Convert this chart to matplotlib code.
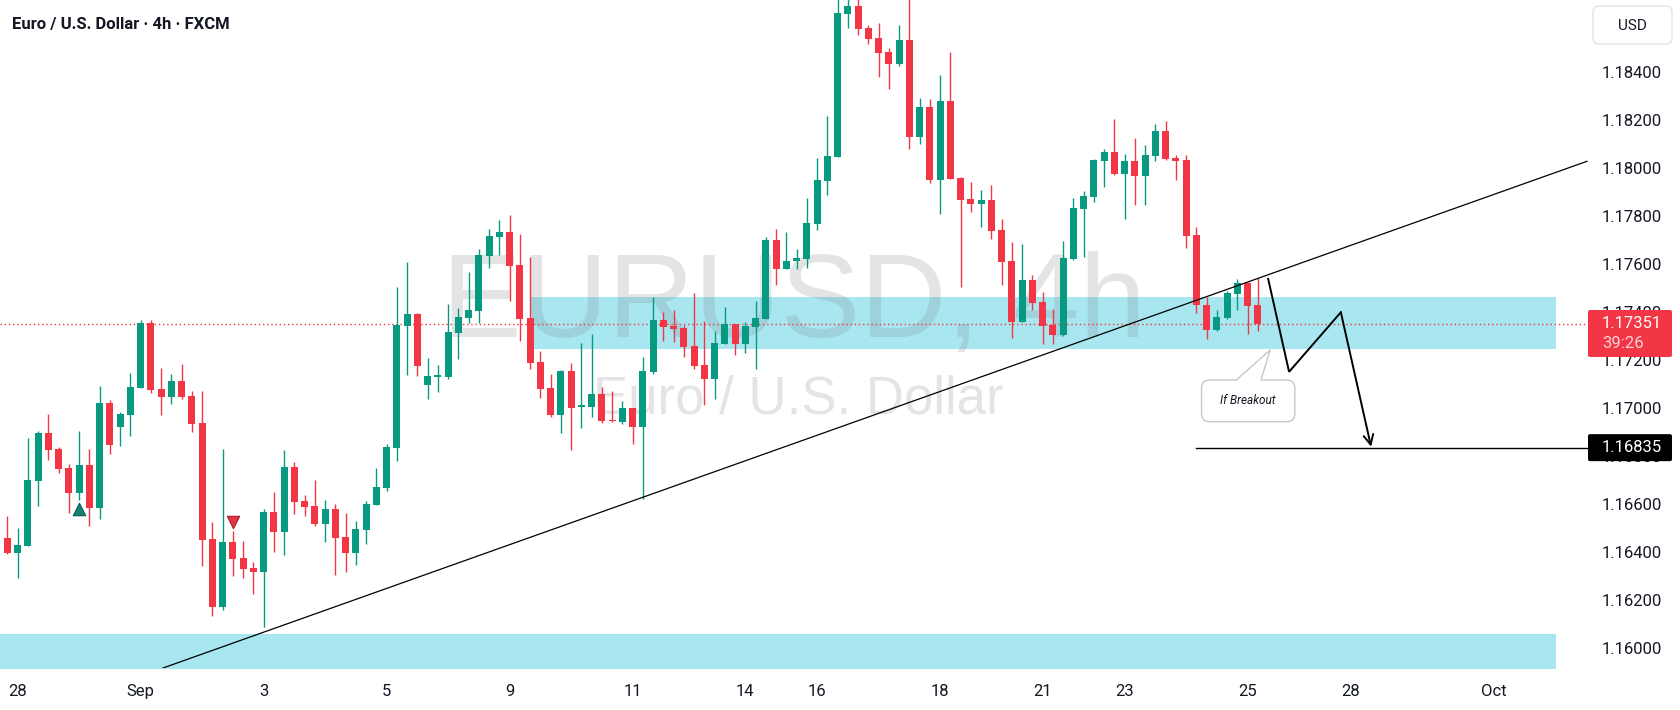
import matplotlib
matplotlib.use("Agg")
import matplotlib.pyplot as plt
from matplotlib.patches import FancyBboxPatch, Polygon
import numpy as np

plt.rcParams['font.family'] = ['Roboto', 'DejaVu Sans']

# EURUSD 4h candles
opens = [1.16458, 1.16397, 1.16426, 1.16697, 1.16896, 1.16829, 1.1675, 1.16647, 1.16763, 1.16585,
         1.17021, 1.16922, 1.16972, 1.17085, 1.17354, 1.17079, 1.17047, 1.17113, 1.1705, 1.16938,
         1.16454, 1.16172, 1.16442, 1.16375, 1.16333, 1.16318, 1.16567, 1.16485, 1.16754, 1.16613,
         1.16592, 1.16518, 1.16579, 1.16463, 1.16397, 1.16493, 1.16597, 1.16667, 1.16835, 1.17343,
         1.17392, 1.17097, 1.17131, 1.1713, 1.17314, 1.17376, 1.17405, 1.17635, 1.17714, 1.17733,
         1.17596, 1.17375, 1.17192, 1.17083, 1.16971, 1.17154, 1.17006, 1.17005, 1.17058, 1.16951,
         1.16943, 1.17, 1.16922, 1.1715, 1.17367, 1.17343, 1.17333, 1.1726, 1.17179, 1.17122,
         1.17268, 1.17351, 1.17268, 1.17339, 1.17372, 1.177, 1.1758, 1.17613, 1.17622, 1.17768,
         1.17946, 1.18047, 1.18643, 1.18675, 1.18583, 1.18542, 1.18483, 1.18435, 1.18533, 1.1813,
         1.18254, 1.17951, 1.18279, 1.17958, 1.1787, 1.17851, 1.17867, 1.17742, 1.17613, 1.1736,
         1.17533, 1.17442, 1.17346, 1.17305, 1.17621, 1.17829, 1.17879, 1.18029, 1.18067, 1.17975,
         1.18029, 1.17967, 1.1805, 1.18154, 1.18042, 1.18033, 1.17721, 1.17429, 1.17325, 1.17375,
         1.17476, 1.17521, 1.17429]
highs = [1.1655, 1.165, 1.16875, 1.16904, 1.16975, 1.16839, 1.16767, 1.16904, 1.16829, 1.17092,
         1.17033, 1.16983, 1.17146, 1.17367, 1.17367, 1.17167, 1.17142, 1.17183, 1.17071, 1.17071,
         1.16524, 1.16829, 1.16488, 1.16446, 1.16358, 1.16579, 1.1665, 1.16825, 1.16775, 1.16638,
         1.167, 1.16617, 1.166, 1.16564, 1.16529, 1.16613, 1.1675, 1.1685, 1.17504, 1.17608,
         1.17396, 1.17208, 1.17179, 1.17433, 1.17417, 1.17567, 1.17663, 1.17746, 1.17783, 1.17804,
         1.17725, 1.17629, 1.17238, 1.17142, 1.17158, 1.17188, 1.17271, 1.17308, 1.17088, 1.17072,
         1.17029, 1.17, 1.17213, 1.17463, 1.17399, 1.1741, 1.17346, 1.17479, 1.17363, 1.17321,
         1.17421, 1.17351, 1.17358, 1.17446, 1.17713, 1.17746, 1.17733, 1.17663, 1.17875, 1.18042,
         1.18217, 1.18721, 1.18712, 1.18708, 1.18596, 1.18604, 1.185, 1.18596, 1.18708, 1.18292,
         1.18288, 1.18388, 1.18483, 1.17963, 1.17942, 1.17908, 1.17929, 1.17788, 1.17692, 1.17683,
         1.17554, 1.17483, 1.17413, 1.17696, 1.17875, 1.17904, 1.18038, 1.18079, 1.18204, 1.18058,
         1.18125, 1.18096, 1.18183, 1.18196, 1.18054, 1.18054, 1.17754, 1.17464, 1.17408, 1.17488,
         1.17538, 1.17525, 1.17542]
lows = [1.16393, 1.16293, 1.16426, 1.16593, 1.16785, 1.1673, 1.16564, 1.16617, 1.1651, 1.16539,
        1.1681, 1.16843, 1.16885, 1.17085, 1.17064, 1.16971, 1.17018, 1.17039, 1.16901, 1.16343,
        1.16135, 1.16157, 1.163, 1.16293, 1.16226, 1.16089, 1.16401, 1.16389, 1.1656, 1.16551,
        1.1651, 1.16443, 1.16305, 1.16318, 1.16347, 1.16435, 1.16596, 1.16654, 1.16779, 1.17139,
        1.17135, 1.17039, 1.17068, 1.17121, 1.17204, 1.17353, 1.17355, 1.17585, 1.17639, 1.17447,
        1.1728, 1.17164, 1.17043, 1.16964, 1.16897, 1.16826, 1.16918, 1.16964, 1.16939, 1.1694,
        1.16935, 1.16851, 1.1662, 1.17143, 1.1728, 1.17276, 1.17214, 1.17164, 1.17014, 1.17039,
        1.17268, 1.17222, 1.1723, 1.17164, 1.17371, 1.17514, 1.17579, 1.1758, 1.17585, 1.1774,
        1.17888, 1.18047, 1.18583, 1.18555, 1.18518, 1.18379, 1.1833, 1.18426, 1.1808, 1.18101,
        1.17939, 1.1781, 1.17955, 1.17505, 1.17818, 1.17755, 1.17705, 1.17514, 1.17293, 1.1736,
        1.1741, 1.17268, 1.17268, 1.17301, 1.17617, 1.17629, 1.17858, 1.17921, 1.17971, 1.17788,
        1.17846, 1.17846, 1.18029, 1.18033, 1.1795, 1.17667, 1.17396, 1.17286, 1.17321, 1.17371,
        1.1741, 1.1731, 1.17322]
closes = [1.16397, 1.16429, 1.167, 1.16896, 1.16826, 1.16747, 1.16647, 1.16763, 1.16585, 1.17021,
          1.16847, 1.16975, 1.17088, 1.17354, 1.17076, 1.17047, 1.17113, 1.17045, 1.16935, 1.16451,
          1.16172, 1.16442, 1.16372, 1.1633, 1.16318, 1.16567, 1.16485, 1.16754, 1.1661, 1.16589,
          1.16518, 1.16579, 1.1646, 1.16397, 1.16496, 1.166, 1.16671, 1.16838, 1.17346, 1.17392,
          1.17176, 1.17133, 1.17133, 1.17317, 1.17379, 1.17408, 1.17638, 1.17717, 1.17733, 1.17593,
          1.17372, 1.17189, 1.1708, 1.16971, 1.17155, 1.17001, 1.17008, 1.17058, 1.16947, 1.16945,
          1.17, 1.16922, 1.17154, 1.17367, 1.17339, 1.1733, 1.17255, 1.17176, 1.17122, 1.17271,
          1.17351, 1.17268, 1.17342, 1.17375, 1.177, 1.1758, 1.17614, 1.17625, 1.17771, 1.1795,
          1.1805, 1.18646, 1.18675, 1.18579, 1.18538, 1.1848, 1.18435, 1.18533, 1.1813, 1.18254,
          1.17951, 1.18279, 1.17955, 1.17868, 1.17851, 1.17867, 1.17739, 1.1761, 1.1736, 1.17533,
          1.17439, 1.17343, 1.17305, 1.17625, 1.17833, 1.17883, 1.18033, 1.18067, 1.17975, 1.18029,
          1.17967, 1.18054, 1.18154, 1.18038, 1.18029, 1.17717, 1.17429, 1.17325, 1.17379, 1.1748,
          1.17521, 1.17426, 1.17351]

date_ticks = [1, 13, 25, 37, 49, 61, 72, 79, 91, 101, 109, 121, 131, 145]
date_labels = ['28', 'Sep', '3', '5', '9', '11', '14', '16', '18', '21', '23', '25', '28', 'Oct']
price_ticks = [1.160, 1.162, 1.164, 1.166, 1.168, 1.170, 1.172, 1.174, 1.176, 1.178, 1.180, 1.182, 1.184]

last_price = 1.17351
countdown = '39:26'
target_price = 1.16835
target_start = 116

zone_mid = [51.1, 151.1, 1.17246, 1.17464]
zone_low = [-5, 151.1, 1.1580, 1.16058]

trend_x = [15.19, 154.1]
trend_y = [1.15917, 1.18028]

path_x = [123.0, 125.04, 130.09, 133.04]
path_y = [1.17538, 1.17151, 1.17399, 1.16839]

signal_up = [7, 1.16579]
signal_down = [22, 1.16525]

callout_text = 'If Breakout'
callout_box = [116.5, 125.6, 1.16943, 1.17117]
callout_tail = [119.9, 122.3, 123.2, 1.17242]

GREEN = '#089981'
RED = '#F23645'
TXT = '#131722'
CYAN = '#a8e7ef'

fig = plt.figure(figsize=(16.8, 7.1), dpi=100)
fig.patch.set_facecolor('white')
ax = fig.add_axes([0, 42 / 710, 1588 / 1680, 668 / 710])
ax.set_xlim(-0.71, 154.2)
ax.set_ylim(1.15917, 1.187)
for s in ax.spines.values():
    s.set_visible(False)

# zones
for z in (zone_mid, zone_low):
    ax.fill_between([z[0], z[1]], z[2], z[3], color=CYAN, lw=0, zorder=1)

# watermark
ax.text(0.5, 0.4955, 'EURUSD, 4h', transform=ax.transAxes, ha='center', va='baseline',
        fontsize=86, family='Liberation Sans', color='#787b86', alpha=0.2, zorder=1.5)
ax.text(0.5025, 0.381, 'Euro / U.S. Dollar', transform=ax.transAxes, ha='center', va='baseline',
        fontsize=38, family='Liberation Sans', color='#787b86', alpha=0.2, zorder=1.5)

# last price dotted line
ax.axhline(last_price, color=RED, lw=1, ls=(0, (1, 2)), zorder=2)

# candles
o = np.array(opens)
h = np.array(highs)
l = np.array(lows)
c = np.array(closes)
x = np.arange(len(o))
col = np.where(c >= o, GREEN, RED)
ax.vlines(x, l, h, colors=col, lw=1, zorder=3)
body = np.maximum(np.abs(c - o), 0.00005)
ax.bar(x, body, bottom=np.minimum(o, c), width=0.68, color=col, lw=0, zorder=4)

# signal markers
ax.scatter([signal_up[0]], [signal_up[1]], marker='^', s=80, color='#15806e', edgecolor='#0d5c50', lw=0.8, zorder=5)
ax.scatter([signal_down[0]], [signal_down[1]], marker='v', s=80, color='#e03545', edgecolor='#a8202c', lw=0.8, zorder=5)

# drawings
ax.plot(trend_x, trend_y, color='black', lw=0.9, zorder=6)
ax.plot([target_start, 154.1], [target_price, target_price], color='black', lw=1, zorder=6)
ax.plot(path_x[:3], path_y[:3], color='black', lw=1.4, zorder=6, solid_joinstyle='miter')
ax.annotate('', xy=(path_x[3], path_y[3]), xytext=(path_x[2], path_y[2]),
            arrowprops=dict(arrowstyle='->,head_length=0.7,head_width=0.35', color='black', lw=1.4,
                            shrinkA=0, shrinkB=0), zorder=6)

# callout
asp = (1 / 24000) / (1 / 10.25)
bx0, bx1, by0, by1 = callout_box
ax.add_patch(FancyBboxPatch((bx0, by0), bx1 - bx0, by1 - by0, boxstyle='round,pad=0,rounding_size=0.8',
                            mutation_aspect=asp, fc='white', ec='#c8c8cc', lw=1, zorder=7))
tx0, tx1, tipx, tipy = callout_tail
ax.add_patch(Polygon([(tx0, by1 - 0.00006), (tipx, tipy), (tx1, by1 - 0.00006)], closed=True,
                     fc='white', ec='none', zorder=8))
ax.plot([tx0, tipx, tx1], [by1, tipy, by1], color='#c8c8cc', lw=1, zorder=8)
ax.text((bx0 + bx1) / 2, (by0 + by1) / 2, callout_text, ha='center', va='center', fontsize=8.5,
        style='italic', color=TXT, zorder=9)

# axes ticks
ax.yaxis.tick_right()
ax.set_yticks(price_ticks)
ax.set_yticklabels([f'{t:.5f}' for t in price_ticks])
ax.tick_params(axis='y', length=0, pad=10, labelsize=12, labelcolor=TXT)
ax.set_xticks(date_ticks)
ax.set_xticklabels(date_labels)
ax.tick_params(axis='x', length=0, pad=11.5, labelsize=12, labelcolor=TXT)

# overlay in pixel coordinates for header and price badges
ov = fig.add_axes([0, 0, 1, 1], zorder=10)
ov.set_xlim(0, 1680)
ov.set_ylim(710, 0)
ov.axis('off')
ov.patch.set_visible(False)


def ypix(p):
    return 710 - ax.transData.transform((0, p))[1]


ov.text(12.5, 24, 'Euro / U.S. Dollar · 4h · FXCM', fontsize=12, fontweight='bold', color=TXT, va='center')

ov.add_patch(FancyBboxPatch((1593, 6), 79, 38, boxstyle='round,pad=0,rounding_size=6',
                            fc='white', ec='#e0e3eb', lw=1))
ov.text(1632.5, 25.5, 'USD', fontsize=11, color=TXT, ha='center', va='center')

yl = ypix(last_price)
ov.add_patch(FancyBboxPatch((1588, yl - 13.8), 84, 47, boxstyle='round,pad=0,rounding_size=2',
                            fc=RED, ec='none'))
ov.text(1602, yl, f'{last_price:.5f}', fontsize=12, color='white', va='center')
ov.text(1602, yl + 19.5, countdown, fontsize=12, color='#fcd3d7', va='center')

yt = ypix(target_price)
ov.add_patch(FancyBboxPatch((1588, yt - 13.5), 84, 27, boxstyle='round,pad=0,rounding_size=2',
                            fc='black', ec='none'))
ov.text(1602, yt, f'{target_price:.5f}', fontsize=12, color='white', va='center')

fig.savefig('out.png', dpi=100)
